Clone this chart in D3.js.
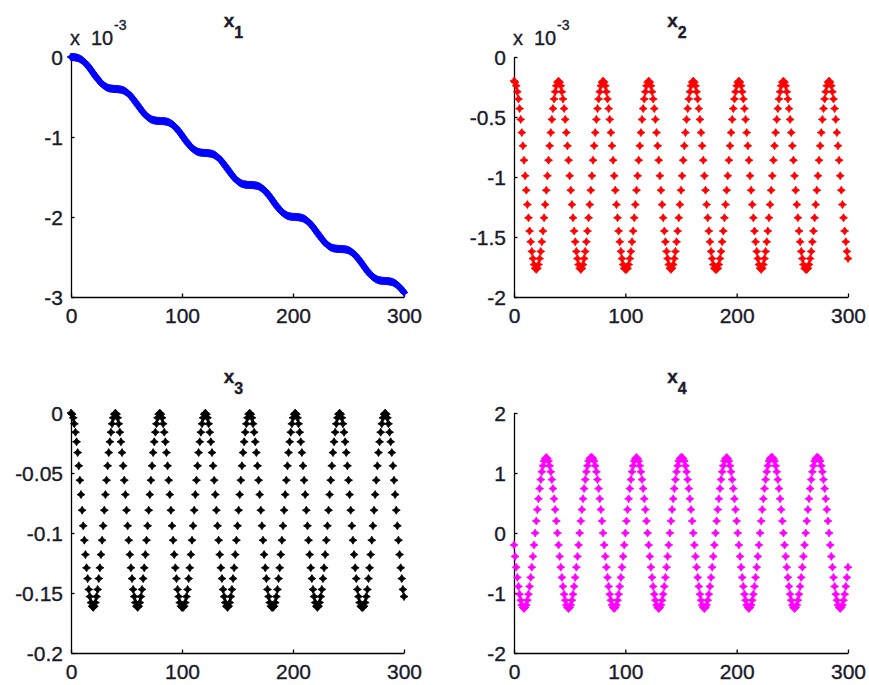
<!DOCTYPE html>
<html lang="en">
<head>
<meta charset="UTF-8">
<title>States x1 - x4</title>
<script src="https://d3js.org/d3.v7.min.js"></script>
<style>
  * { margin: 0; padding: 0; }
  body { background: #fff; }
  svg { display: block; font-family: "Liberation Sans", Arial, sans-serif; }
  .tick text { font-size: 21px; fill: #1a1a2a; stroke: #1a1a2a; stroke-width: 0.35px; }
  .domain, .tick line { stroke: #000; stroke-width: 1.3px; }
  .label { fill: #1a1a2a; stroke: #1a1a2a; stroke-width: 0.35px; }
</style>
</head>
<body>
<svg id="chart" width="869" height="685"></svg>
<script>
// sample index 0..300 is the x value of each point
const xTicks = [0, 100, 200, 300];
const x1Ticks = [0, -1, -2, -3];
const x2Ticks = [0, -0.5, -1, -1.5, -2];
const x3Ticks = [0, -0.05, -0.1, -0.15, -0.2];
const x4Ticks = [2, 1, 0, -1, -2];

// x1 (in units of 1e-3)
const x1Values = [
  0,-0.001,-0.001,-0.003,-0.005,-0.008,-0.011,-0.016,-0.023,-0.031,-0.040,-0.051,-0.063,-0.076,-0.091,-0.108,-0.125,-0.143,-0.161,-0.181,-0.200,-0.219,-0.239,-0.257,-0.275,-0.292,-0.309,-0.324,-0.337,-0.349,-0.360,-0.369,-0.377,-0.384,-0.389,-0.392,-0.395,-0.397,-0.399,-0.399,
  -0.400,-0.401,-0.401,-0.403,-0.405,-0.408,-0.411,-0.416,-0.423,-0.431,-0.440,-0.451,-0.463,-0.476,-0.491,-0.508,-0.525,-0.543,-0.561,-0.581,-0.600,-0.619,-0.639,-0.657,-0.675,-0.692,-0.709,-0.724,-0.737,-0.749,-0.760,-0.769,-0.777,-0.784,-0.789,-0.792,-0.795,-0.797,-0.799,-0.799,
  -0.800,-0.800,-0.801,-0.801,-0.803,-0.805,-0.808,-0.811,-0.816,-0.823,-0.831,-0.840,-0.851,-0.863,-0.876,-0.891,-0.908,-0.925,-0.943,-0.961,-0.981,-1.000,-1.019,-1.039,-1.057,-1.075,-1.092,-1.109,-1.124,-1.137,-1.149,-1.160,-1.169,-1.177,-1.184,-1.189,-1.192,-1.195,-1.197,-1.199,-1.199,
  -1.200,-1.201,-1.201,-1.203,-1.205,-1.208,-1.211,-1.216,-1.223,-1.231,-1.240,-1.251,-1.263,-1.276,-1.291,-1.308,-1.325,-1.343,-1.361,-1.381,-1.400,-1.419,-1.439,-1.457,-1.475,-1.492,-1.509,-1.524,-1.537,-1.549,-1.560,-1.569,-1.577,-1.584,-1.589,-1.592,-1.595,-1.597,-1.599,-1.599,
  -1.600,-1.600,-1.601,-1.601,-1.603,-1.605,-1.608,-1.611,-1.616,-1.623,-1.631,-1.640,-1.651,-1.663,-1.676,-1.691,-1.708,-1.725,-1.743,-1.761,-1.781,-1.800,-1.819,-1.839,-1.857,-1.875,-1.892,-1.909,-1.924,-1.937,-1.949,-1.960,-1.969,-1.977,-1.984,-1.989,-1.992,-1.995,-1.997,-1.999,-1.999,
  -2.000,-2.001,-2.001,-2.003,-2.005,-2.008,-2.011,-2.016,-2.023,-2.031,-2.040,-2.051,-2.063,-2.076,-2.091,-2.108,-2.125,-2.143,-2.161,-2.181,-2.200,-2.219,-2.239,-2.257,-2.275,-2.292,-2.309,-2.324,-2.337,-2.349,-2.360,-2.369,-2.377,-2.384,-2.389,-2.392,-2.395,-2.397,-2.399,-2.399,
  -2.400,-2.400,-2.401,-2.401,-2.403,-2.405,-2.408,-2.411,-2.416,-2.423,-2.431,-2.440,-2.451,-2.463,-2.476,-2.491,-2.508,-2.525,-2.543,-2.561,-2.581,-2.600,-2.619,-2.639,-2.657,-2.675,-2.692,-2.709,-2.724,-2.737,-2.749,-2.760,-2.769,-2.777,-2.784,-2.789,-2.792,-2.795,-2.797,-2.799,-2.799,
  -2.800,-2.801,-2.801,-2.803,-2.805,-2.808,-2.811,-2.816,-2.823,-2.831,-2.840,-2.851,-2.863,-2.876,-2.891,-2.908,-2.925,-2.943
];

// x2 (in units of 1e-3)
const x2Values = [
  -0.20,-0.21,-0.24,-0.29,-0.35,-0.43,-0.52,-0.63,-0.74,-0.86,-0.99,-1.11,-1.23,-1.34,-1.45,-1.54,-1.62,-1.68,-1.73,-1.76,-1.77,-1.76,-1.73,-1.68,-1.62,-1.54,-1.45,-1.34,-1.23,-1.11,-0.99,-0.86,-0.74,-0.63,-0.52,-0.43,-0.35,-0.29,-0.24,-0.21,
  -0.20,-0.21,-0.24,-0.29,-0.35,-0.43,-0.52,-0.63,-0.74,-0.86,-0.99,-1.11,-1.23,-1.34,-1.45,-1.54,-1.62,-1.68,-1.73,-1.76,-1.77,-1.76,-1.73,-1.68,-1.62,-1.54,-1.45,-1.34,-1.23,-1.11,-0.99,-0.86,-0.74,-0.63,-0.52,-0.43,-0.35,-0.29,-0.24,-0.21,
  -0.20,-0.21,-0.24,-0.29,-0.35,-0.43,-0.52,-0.63,-0.74,-0.86,-0.99,-1.11,-1.23,-1.34,-1.45,-1.54,-1.62,-1.68,-1.73,-1.76,-1.77,-1.77,-1.76,-1.73,-1.68,-1.62,-1.54,-1.45,-1.34,-1.23,-1.11,-0.99,-0.86,-0.74,-0.63,-0.52,-0.43,-0.35,-0.29,-0.24,-0.21,
  -0.20,-0.21,-0.24,-0.29,-0.35,-0.43,-0.52,-0.63,-0.74,-0.86,-0.99,-1.11,-1.23,-1.34,-1.45,-1.54,-1.62,-1.68,-1.73,-1.76,-1.77,-1.76,-1.73,-1.68,-1.62,-1.54,-1.45,-1.34,-1.23,-1.11,-0.99,-0.86,-0.74,-0.63,-0.52,-0.43,-0.35,-0.29,-0.24,-0.21,
  -0.20,-0.21,-0.24,-0.29,-0.35,-0.43,-0.52,-0.63,-0.74,-0.86,-0.99,-1.11,-1.23,-1.34,-1.45,-1.54,-1.62,-1.68,-1.73,-1.76,-1.77,-1.77,-1.76,-1.73,-1.68,-1.62,-1.54,-1.45,-1.34,-1.23,-1.11,-0.99,-0.86,-0.74,-0.63,-0.52,-0.43,-0.35,-0.29,-0.24,-0.21,
  -0.20,-0.21,-0.24,-0.29,-0.35,-0.43,-0.52,-0.63,-0.74,-0.86,-0.99,-1.11,-1.23,-1.34,-1.45,-1.54,-1.62,-1.68,-1.73,-1.76,-1.77,-1.76,-1.73,-1.68,-1.62,-1.54,-1.45,-1.34,-1.23,-1.11,-0.99,-0.86,-0.74,-0.63,-0.52,-0.43,-0.35,-0.29,-0.24,-0.21,
  -0.20,-0.21,-0.24,-0.29,-0.35,-0.43,-0.52,-0.63,-0.74,-0.86,-0.99,-1.11,-1.23,-1.34,-1.45,-1.54,-1.62,-1.68,-1.73,-1.76,-1.77,-1.77,-1.76,-1.73,-1.68,-1.62,-1.54,-1.45,-1.34,-1.23,-1.11,-0.99,-0.86,-0.74,-0.63,-0.52,-0.43,-0.35,-0.29,-0.24,-0.21,
  -0.20,-0.21,-0.24,-0.29,-0.35,-0.43,-0.52,-0.63,-0.74,-0.86,-0.99,-1.11,-1.23,-1.34,-1.45,-1.54,-1.62,-1.68
];

const x3Values = [
  0,-0.001,-0.004,-0.009,-0.016,-0.024,-0.033,-0.044,-0.056,-0.068,-0.081,-0.094,-0.106,-0.118,-0.129,-0.138,-0.147,-0.153,-0.158,-0.161,-0.162,-0.161,-0.158,-0.153,-0.147,-0.138,-0.129,-0.118,-0.106,-0.094,-0.081,-0.068,-0.056,-0.044,-0.033,-0.024,-0.016,-0.009,-0.004,-0.001,
  0,-0.001,-0.004,-0.009,-0.016,-0.024,-0.033,-0.044,-0.056,-0.068,-0.081,-0.094,-0.106,-0.118,-0.129,-0.138,-0.147,-0.153,-0.158,-0.161,-0.162,-0.161,-0.158,-0.153,-0.147,-0.138,-0.129,-0.118,-0.106,-0.094,-0.081,-0.068,-0.056,-0.044,-0.033,-0.024,-0.016,-0.009,-0.004,-0.001,
  0,-0.001,-0.004,-0.009,-0.016,-0.024,-0.033,-0.044,-0.056,-0.068,-0.081,-0.094,-0.106,-0.118,-0.129,-0.138,-0.147,-0.153,-0.158,-0.161,-0.162,-0.162,-0.161,-0.158,-0.153,-0.147,-0.138,-0.129,-0.118,-0.106,-0.094,-0.081,-0.068,-0.056,-0.044,-0.033,-0.024,-0.016,-0.009,-0.004,-0.001,
  0,-0.001,-0.004,-0.009,-0.016,-0.024,-0.033,-0.044,-0.056,-0.068,-0.081,-0.094,-0.106,-0.118,-0.129,-0.138,-0.147,-0.153,-0.158,-0.161,-0.162,-0.161,-0.158,-0.153,-0.147,-0.138,-0.129,-0.118,-0.106,-0.094,-0.081,-0.068,-0.056,-0.044,-0.033,-0.024,-0.016,-0.009,-0.004,-0.001,
  0,-0.001,-0.004,-0.009,-0.016,-0.024,-0.033,-0.044,-0.056,-0.068,-0.081,-0.094,-0.106,-0.118,-0.129,-0.138,-0.147,-0.153,-0.158,-0.161,-0.162,-0.162,-0.161,-0.158,-0.153,-0.147,-0.138,-0.129,-0.118,-0.106,-0.094,-0.081,-0.068,-0.056,-0.044,-0.033,-0.024,-0.016,-0.009,-0.004,-0.001,
  0,-0.001,-0.004,-0.009,-0.016,-0.024,-0.033,-0.044,-0.056,-0.068,-0.081,-0.094,-0.106,-0.118,-0.129,-0.138,-0.147,-0.153,-0.158,-0.161,-0.162,-0.161,-0.158,-0.153,-0.147,-0.138,-0.129,-0.118,-0.106,-0.094,-0.081,-0.068,-0.056,-0.044,-0.033,-0.024,-0.016,-0.009,-0.004,-0.001,
  0,-0.001,-0.004,-0.009,-0.016,-0.024,-0.033,-0.044,-0.056,-0.068,-0.081,-0.094,-0.106,-0.118,-0.129,-0.138,-0.147,-0.153,-0.158,-0.161,-0.162,-0.162,-0.161,-0.158,-0.153,-0.147,-0.138,-0.129,-0.118,-0.106,-0.094,-0.081,-0.068,-0.056,-0.044,-0.033,-0.024,-0.016,-0.009,-0.004,-0.001,
  0,-0.001,-0.004,-0.009,-0.016,-0.024,-0.033,-0.044,-0.056,-0.068,-0.081,-0.094,-0.106,-0.118,-0.129,-0.138,-0.147,-0.153
];

const x4Values = [
  -0.20,-0.39,-0.57,-0.74,-0.89,-1.02,-1.12,-1.20,-1.24,
  -1.26,-1.24,-1.20,-1.12,-1.02,-0.89,-0.74,-0.57,-0.39,-0.20,0,0.20,0.39,0.57,0.74,0.89,1.02,1.12,1.20,1.24,1.26,1.24,1.20,1.12,1.02,0.89,0.74,0.57,0.39,0.20,0,-0.20,-0.39,-0.57,-0.74,-0.89,-1.02,-1.12,-1.20,-1.24,
  -1.26,-1.24,-1.20,-1.12,-1.02,-0.89,-0.74,-0.57,-0.39,-0.20,0,0.20,0.39,0.57,0.74,0.89,1.02,1.12,1.20,1.24,1.26,1.26,1.24,1.20,1.12,1.02,0.89,0.74,0.57,0.39,0.20,0,-0.20,-0.39,-0.57,-0.74,-0.89,-1.02,-1.12,-1.20,-1.24,
  -1.26,-1.24,-1.20,-1.12,-1.02,-0.89,-0.74,-0.57,-0.39,-0.20,0,0.20,0.39,0.57,0.74,0.89,1.02,1.12,1.20,1.24,1.26,1.24,1.20,1.12,1.02,0.89,0.74,0.57,0.39,0.20,0,-0.20,-0.39,-0.57,-0.74,-0.89,-1.02,-1.12,-1.20,-1.24,
  -1.26,-1.24,-1.20,-1.12,-1.02,-0.89,-0.74,-0.57,-0.39,-0.20,0,0.20,0.39,0.57,0.74,0.89,1.02,1.12,1.20,1.24,1.26,1.26,1.24,1.20,1.12,1.02,0.89,0.74,0.57,0.39,0.20,0,-0.20,-0.39,-0.57,-0.74,-0.89,-1.02,-1.12,-1.20,-1.24,
  -1.26,-1.24,-1.20,-1.12,-1.02,-0.89,-0.74,-0.57,-0.39,-0.20,0,0.20,0.39,0.57,0.74,0.89,1.02,1.12,1.20,1.24,1.26,1.24,1.20,1.12,1.02,0.89,0.74,0.57,0.39,0.20,0,-0.20,-0.39,-0.57,-0.74,-0.89,-1.02,-1.12,-1.20,-1.24,
  -1.26,-1.24,-1.20,-1.12,-1.02,-0.89,-0.74,-0.57,-0.39,-0.20,0,0.20,0.39,0.57,0.74,0.89,1.02,1.12,1.20,1.24,1.26,1.26,1.24,1.20,1.12,1.02,0.89,0.74,0.57,0.39,0.20,0,-0.20,-0.39,-0.57,-0.74,-0.89,-1.02,-1.12,-1.20,-1.24,
  -1.26,-1.24,-1.20,-1.12,-1.02,-0.89,-0.74,-0.57,-0.39,-0.20,0,0.20,0.39,0.57,0.74,0.89,1.02,1.12,1.20,1.24,1.26,1.26,1.24,1.20,1.12,1.02,0.89,0.74,0.57,0.39,0.20,0,-0.20,-0.39,-0.57,-0.74,-0.89,-1.02,-1.12,-1.20,-1.24,
  -1.26,-1.24,-1.20,-1.12,-1.02,-0.89,-0.74,-0.57
];

const panels = [
  { sub: "1", values: x1Values, yDomain: [-3, 0], yTicks: x1Ticks, color: "#0000ff", left: 71, top: 57, width: 333, exponent: "-3" },
  { sub: "2", values: x2Values, yDomain: [-2, 0], yTicks: x2Ticks, color: "#ff0000", left: 514, top: 57, width: 334, exponent: "-3" },
  { sub: "3", values: x3Values, yDomain: [-0.2, 0], yTicks: x3Ticks, color: "#000000", left: 71, top: 413, width: 333 },
  { sub: "4", values: x4Values, yDomain: [-2, 2], yTicks: x4Ticks, color: "#ff00ff", left: 514, top: 413, width: 334 }
];
const plotHeight = 240;

// MATLAB '*' marker as it looks at this size: a fat four-point star
const marker = "M0,-4L1.5,-1.5L4,0L1.5,1.5L0,4L-1.5,1.5L-4,0L-1.5,-1.5Z";

const svg = d3.select("#chart");

panels.forEach(p => {
  const g = svg.append("g").attr("transform", `translate(${p.left},${p.top})`);

  const x = d3.scaleLinear().domain([0, 300]).range([0, p.width]);
  const y = d3.scaleLinear().domain(p.yDomain).range([plotHeight, 0]);

  g.append("g")
    .attr("transform", `translate(0,${plotHeight})`)
    .call(d3.axisBottom(x).tickValues(xTicks).tickSizeInner(-3.5).tickSizeOuter(0)
      .tickPadding(10).tickFormat(d => String(d)));

  g.append("g")
    .call(d3.axisLeft(y).tickValues(p.yTicks).tickSizeInner(-3.5).tickSizeOuter(0)
      .tickPadding(8).tickFormat(d => String(d)));

  g.selectAll(".tick text").attr("dy", null).each(function() {
    const t = d3.select(this);
    if (t.attr("y") !== null && +t.attr("y") > 0) t.attr("dy", "0.74em");
    else t.attr("dy", "0.36em");
  });

  // title x_n
  const title = g.append("text")
    .attr("class", "label")
    .attr("x", p.width / 2 - 4)
    .attr("y", -30)
    .attr("text-anchor", "middle")
    .attr("font-weight", "bold")
    .attr("font-size", 19);
  title.append("tspan").text("x");
  title.append("tspan").attr("dy", 11).attr("font-size", 16).text(p.sub);

  if (p.exponent) {
    g.append("text").attr("class", "label").attr("x", -1).attr("y", -12).attr("font-size", 20).text("x");
    g.append("text").attr("class", "label").attr("x", 20).attr("y", -12).attr("font-size", 20).text("10");
    g.append("text").attr("class", "label").attr("x", 43).attr("y", -27).attr("font-size", 14).text(p.exponent);
  }

  g.append("g")
    .selectAll("path")
    .data(p.values)
    .join("path")
    .attr("d", marker)
    .attr("transform", (d, i) => `translate(${x(i)},${y(d)})`)
    .attr("fill", p.color)
    .attr("stroke", p.color)
    .attr("stroke-width", 0.8)
    .attr("stroke-linejoin", "round");
});
</script>
</body>
</html>
